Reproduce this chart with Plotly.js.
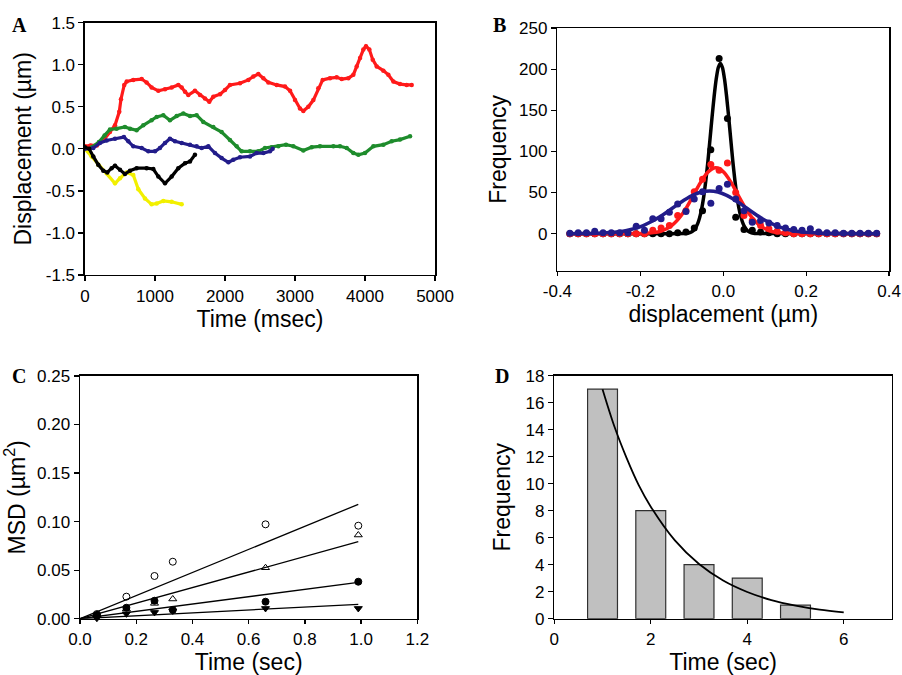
<!DOCTYPE html>
<html>
<head>
<meta charset="utf-8">
<script src="https://cdn.plot.ly/plotly-3.0.1.min.js"></script>
<style>html,body{margin:0;padding:0;background:#fff;}#chart{width:902px;height:675px;}</style>
</head>
<body>
<div id="chart"></div>
<script>
// ---------- Panel A: displacement traces ----------
const redT = [0,80,170,262,357,429,490,514,561,596,690,810,880,952,1048,1143,1238,1333,1381,1429,1476,1571,1643,1714,1776,1833,1929,2000,2071,2214,2333,2405,2476,2548,2619,2738,2857,2929,3000,3071,3119,3190,3262,3333,3395,3500,3595,3667,3762,3833,3881,3929,3976,4014,4062,4110,4167,4262,4333,4405,4500,4595,4667];
const redY = [0.03,0.04,0.04,0.1,0.2,0.28,0.44,0.59,0.76,0.8,0.82,0.83,0.79,0.73,0.69,0.71,0.73,0.76,0.73,0.68,0.64,0.69,0.64,0.6,0.56,0.62,0.65,0.7,0.76,0.78,0.82,0.86,0.89,0.84,0.79,0.76,0.74,0.69,0.58,0.48,0.45,0.5,0.58,0.72,0.82,0.84,0.85,0.83,0.84,0.88,0.98,1.08,1.18,1.22,1.18,1.06,0.98,0.93,0.88,0.8,0.77,0.76,0.76];
const greenT = [100,200,280,357,452,571,643,738,833,952,1024,1119,1214,1310,1405,1500,1595,1690,1833,1952,2071,2167,2238,2357,2476,2571,2667,2762,2871,2976,3119,3238,3357,3548,3643,3738,3833,3905,4000,4119,4262,4381,4500,4643];
const greenY = [0.02,0.08,0.16,0.23,0.24,0.26,0.24,0.22,0.28,0.34,0.38,0.40,0.34,0.39,0.42,0.39,0.40,0.32,0.26,0.20,0.105,0.03,-0.03,-0.03,-0.03,0.01,0.02,0.03,0.05,0.03,-0.02,0.02,0.03,0.03,0.03,0.01,-0.05,-0.07,-0.05,0.03,0.05,0.09,0.11,0.15];
const blueT = [0,119,214,310,429,557,619,690,810,905,1000,1071,1143,1214,1286,1381,1500,1595,1667,1762,1857,1952,2048,2119,2214,2357,2452,2548,2643,2681];
const blueY = [0.0,0.01,0.07,0.1,0.12,0.14,0.09,0.03,0.01,-0.03,-0.03,0.01,0.07,0.12,0.09,0.07,0.05,0.03,0.01,0.03,-0.05,-0.11,-0.16,-0.13,-0.1,-0.09,-0.05,-0.05,-0.03,0.0];
const blackT = [0,60,119,190,262,319,381,429,500,571,643,738,881,976,1048,1143,1238,1333,1429,1500,1571];
const blackY = [0.02,0.0,-0.09,-0.19,-0.26,-0.28,-0.23,-0.2,-0.25,-0.3,-0.26,-0.23,-0.23,-0.24,-0.33,-0.41,-0.33,-0.23,-0.17,-0.15,-0.07];
const yellowT = [0,95,190,310,429,500,595,690,762,857,952,1024,1119,1238,1381];
const yellowY = [0.0,-0.09,-0.19,-0.29,-0.41,-0.35,-0.28,-0.31,-0.48,-0.59,-0.66,-0.65,-0.62,-0.63,-0.66];
const aXTicks = [0,1000,2000,3000,4000,5000];
const aYTicks = [-1.5,-1.0,-0.5,0.0,0.5,1.0,1.5];
const aYText = ["-1.5","-1.0","-0.5","0.0","0.5","1.0","1.5"];

// ---------- Panel B: displacement histograms ----------
const binX = [-0.37,-0.35,-0.33,-0.31,-0.29,-0.27,-0.25,-0.23,-0.21,-0.19,-0.17,-0.15,-0.13,-0.11,-0.09,-0.07,-0.05,-0.03,-0.01,0.01,0.03,0.05,0.07,0.09,0.11,0.13,0.15,0.17,0.19,0.21,0.23,0.25,0.27,0.29,0.31,0.33,0.35,0.37];
const blackCounts = [0,0,0,0,0,0,0,0,0,0,0,0,0,1,2,7,28,102,213,140,20,5,4,2,1,0,0,0,0,0,0,0,0,0,0,0,0,0];
const redCounts = [0,0,0,0,0,0,0,0,0,0,4,7,10,22,28,51,66,84,77,86,50,22,16,10,6,3,1,0,0,0,0,0,0,0,0,0,0,0];
const blueCounts = [0.5,1,1,3,1,1,1,1,9,4,18,18,26,36,27,42,51,37,55,60,42,28,14,16,13,10,7,5,4,6,2,1,1,0.5,0.5,0.5,0.5,0.5];
const blackFitX = [-0.37,-0.092,-0.087,-0.082,-0.077,-0.072,-0.067,-0.062,-0.057,-0.052,-0.047,-0.042,-0.037,-0.032,-0.027,-0.022,-0.017,-0.012,-0.007,-0.002,0.003,0.008,0.013,0.018,0.023,0.028,0.033,0.038,0.043,0.048,0.053,0.058,0.063,0.068,0.073,0.078,0.37];
const blackFitY = [0,0.2,0.5,1,2,3.8,6.9,11.9,19.5,30.5,45.6,65,88,115,142,167,188,202,207,202,188,167,142,115,88,65,45.6,30.5,19.5,11.9,6.9,3.8,2,1,0.5,0.2,0];
const redFitX = [-0.37,-0.218,-0.198,-0.178,-0.168,-0.158,-0.148,-0.138,-0.128,-0.118,-0.108,-0.098,-0.088,-0.078,-0.068,-0.058,-0.048,-0.038,-0.028,-0.018,-0.008,0.002,0.012,0.022,0.032,0.042,0.052,0.062,0.072,0.082,0.092,0.102,0.112,0.122,0.132,0.142,0.162,0.182,0.37];
const redFitY = [0,0.05,0.2,0.7,1.25,2.1,3.5,5.6,8.5,12.6,17.9,24.5,32.3,41,50.4,59.5,67.7,74.3,78.5,80,78.5,74.3,67.7,59.5,50.4,41,32.3,24.5,17.9,12.6,8.5,5.6,3.5,2.1,1.25,0.7,0.2,0.05,0];
const blueFitX = [-0.37,-0.353,-0.333,-0.313,-0.293,-0.273,-0.253,-0.233,-0.213,-0.193,-0.173,-0.153,-0.133,-0.113,-0.093,-0.073,-0.053,-0.033,-0.013,0.007,0.027,0.047,0.067,0.087,0.107,0.127,0.147,0.167,0.187,0.207,0.227,0.247,0.267,0.287,0.37];
const blueFitY = [0,0.07,0.15,0.33,0.66,1.3,2.3,3.9,6.4,9.9,14.7,20.5,27.3,34.4,41.2,46.9,50.7,52,50.7,46.9,41.2,34.4,27.3,20.5,14.7,9.9,6.4,3.9,2.3,1.3,0.66,0.33,0.15,0.07,0];
const bXTicks = [-0.4,-0.2,0.0,0.2,0.4];
const bXText = ["-0.4","-0.2","0.0","0.2","0.4"];
const bYTicks = [0,50,100,150,200,250];

// ---------- Panel C: MSD ----------
const msdT = [0.06,0.165,0.265,0.33,0.66,0.99];
const msdOpenCircle = [0.0048,0.0227,0.044,0.0587,0.0972,0.0958];
const msdOpenTri = [0.004,0.01,0.0158,0.0203,0.0525,0.0862];
const msdFilledCircle = [0.0038,0.0113,0.0185,0.009,0.0175,0.0381];
const msdFilledTriDown = [0.0005,0.005,0.0065,0.008,0.0106,0.0106];
const fitT = [0,0.99];
const fitOpenCircle = [0,0.1178];
const fitOpenTri = [0,0.0793];
const fitFilledCircle = [0,0.0374];
const fitFilledTriDown = [0,0.0148];
const cXTicks = [0,0.2,0.4,0.6,0.8,1.0,1.2];
const cXText = ["0.0","0.2","0.4","0.6","0.8","1.0","1.2"];
const cYTicks = [0,0.05,0.10,0.15,0.20,0.25];
const cYText = ["0.00","0.05","0.10","0.15","0.20","0.25"];

// ---------- Panel D: dwell-time histogram ----------
const dwellT = [1,2,3,4,5];
const dwellCounts = [17,8,4,3,1];
const decayX = [1,1.25,1.5,1.75,2,2.5,3,3.5,4,4.5,5,5.5,6];
const decayY = [17,14.2,11.9,9.9,8.3,5.8,4.05,2.83,1.98,1.38,0.97,0.67,0.47];
const dXTicks = [0,2,4,6];
const dYTicks = [0,2,4,6,8,10,12,14,16,18];

const SANS = "Liberation Sans, Arial, sans-serif";
const SERIF = "Liberation Serif, Times New Roman, serif";
const colRed = "#ff1a1a", colGreen = "#1e8c2c", colBlue = "#221c8a", colYellow = "#f2f000", colBlack = "#000000";

function trace(x, y, color, xa, ya) {
  return {x: x, y: y, xaxis: xa, yaxis: ya, type: "scatter", mode: "lines+markers",
    line: {color: color, width: 3.2}, marker: {color: color, size: 4.5}, hoverinfo: "skip"};
}
function pts(x, y, color) {
  return {x: x, y: y, xaxis: "x2", yaxis: "y2", type: "scatter", mode: "markers",
    marker: {color: color, size: 7}, hoverinfo: "skip"};
}
function fit(x, y, color) {
  return {x: x, y: y, xaxis: "x2", yaxis: "y2", type: "scatter", mode: "lines",
    line: {color: color, width: 3.5, shape: "spline", smoothing: 0.5}, hoverinfo: "skip"};
}
function cpts(y, symbol) {
  return {x: msdT, y: y, xaxis: "x3", yaxis: "y3", type: "scatter", mode: "markers",
    marker: {color: "#000", size: 7, symbol: symbol, line: {color: "#000", width: 1}}, cliponaxis: false, hoverinfo: "skip"};
}
function cfit(y) {
  return {x: fitT, y: y, xaxis: "x3", yaxis: "y3", type: "scatter", mode: "lines",
    line: {color: "#000", width: 1.3}, hoverinfo: "skip"};
}

const data = [
  trace(yellowT, yellowY, colYellow, "x", "y"),
  trace(redT, redY, colRed, "x", "y"),
  trace(greenT, greenY, colGreen, "x", "y"),
  trace(blueT, blueY, colBlue, "x", "y"),
  trace(blackT, blackY, colBlack, "x", "y"),

  pts(binX, blackCounts, colBlack),
  fit(blackFitX, blackFitY, colBlack),
  pts(binX, redCounts, colRed),
  fit(redFitX, redFitY, colRed),
  pts(binX, blueCounts, colBlue),
  fit(blueFitX, blueFitY, colBlue),

  cfit(fitOpenCircle), cfit(fitOpenTri), cfit(fitFilledCircle), cfit(fitFilledTriDown),
  cpts(msdOpenCircle, "circle-open"),
  cpts(msdOpenTri, "triangle-up-open"),
  cpts(msdFilledCircle, "circle"),
  cpts(msdFilledTriDown, "triangle-down"),

  {x: dwellT, y: dwellCounts, xaxis: "x4", yaxis: "y4", type: "bar", width: 0.62,
   marker: {color: "#c0c0c0", line: {color: "#303030", width: 1.2}}, hoverinfo: "skip"},
  {x: decayX, y: decayY, xaxis: "x4", yaxis: "y4", type: "scatter", mode: "lines",
   line: {color: "#000", width: 1.8, shape: "spline"}, hoverinfo: "skip"}
];

const tickFont = {family: SANS, size: 17, color: "#000"};
const titleFont = {family: SANS, size: 23, color: "#000"};
function ax(extra) {
  return Object.assign({showgrid: false, zeroline: false, showline: true, mirror: true,
    linecolor: "#000", linewidth: 1.5, ticks: "outside", ticklen: 5, tickwidth: 1.3, tickcolor: "#000",
    tickfont: tickFont, ticklabeloverflow: "allow", fixedrange: true}, extra);
}

const layout = {
  width: 902, height: 675, margin: {l: 0, r: 0, t: 0, b: 0},
  paper_bgcolor: "#fff", plot_bgcolor: "rgba(0,0,0,0)", showlegend: false,
  font: {family: SANS, color: "#000"},
  xaxis: ax({domain: [0.0942, 0.4823], range: [0, 5000.01], anchor: "y", tickvals: aXTicks,
    title: {text: "Time (msec)", font: titleFont, standoff: 3}}),
  yaxis: ax({domain: [0.5926, 0.9664], range: [-1.5001, 1.5001], anchor: "x", tickvals: aYTicks, ticktext: aYText,
    title: {text: "Displacement (µm)", font: titleFont, standoff: 7}}),
  xaxis2: ax({domain: [0.6179, 0.9858], range: [-0.4002, 0.4002], anchor: "y2", tickvals: bXTicks, ticktext: bXText,
    ticklen: 4, title: {text: "displacement (µm)", font: titleFont, standoff: 0}}),
  yaxis2: ax({domain: [0.5990, 0.9585], range: [-45, 250.01], anchor: "x2", tickvals: bYTicks,
    title: {text: "Frequency", font: titleFont, standoff: 6}}),
  xaxis3: ax({domain: [0.0887, 0.4627], range: [0, 1.2001], anchor: "y3", tickvals: cXTicks, ticktext: cXText,
    ticklen: 4, title: {text: "Time (sec)", font: titleFont, standoff: 12}}),
  yaxis3: ax({domain: [0.0834, 0.4430], range: [0, 0.25001], anchor: "x3", tickvals: cYTicks, ticktext: cYText,
    title: {text: "MSD (µm<sup>2</sup>)", font: titleFont, standoff: 6}}),
  xaxis4: ax({domain: [0.6145, 0.9889], range: [0, 7], anchor: "y4", tickvals: dXTicks,
    ticklen: 4, title: {text: "Time (sec)", font: titleFont, standoff: 0}}),
  yaxis4: ax({domain: [0.0834, 0.4434], range: [0, 18.001], anchor: "x4", tickvals: dYTicks,
    title: {text: "Frequency", font: titleFont, standoff: 8}}),
  annotations: [
    {text: "<b>A</b>", x: 19/902, y: 1 - 25/675},
    {text: "<b>B</b>", x: 499.5/902, y: 1 - 25/675},
    {text: "<b>C</b>", x: 19/902, y: 1 - 376/675},
    {text: "<b>D</b>", x: 502/902, y: 1 - 376/675}
  ].map(a => Object.assign({xref: "paper", yref: "paper", xanchor: "center", yanchor: "middle",
    showarrow: false, font: {family: SERIF, size: 20, color: "#000"}}, a))
};

Plotly.newPlot("chart", data, layout, {staticPlot: true, displayModeBar: false});
</script>
</body>
</html>
